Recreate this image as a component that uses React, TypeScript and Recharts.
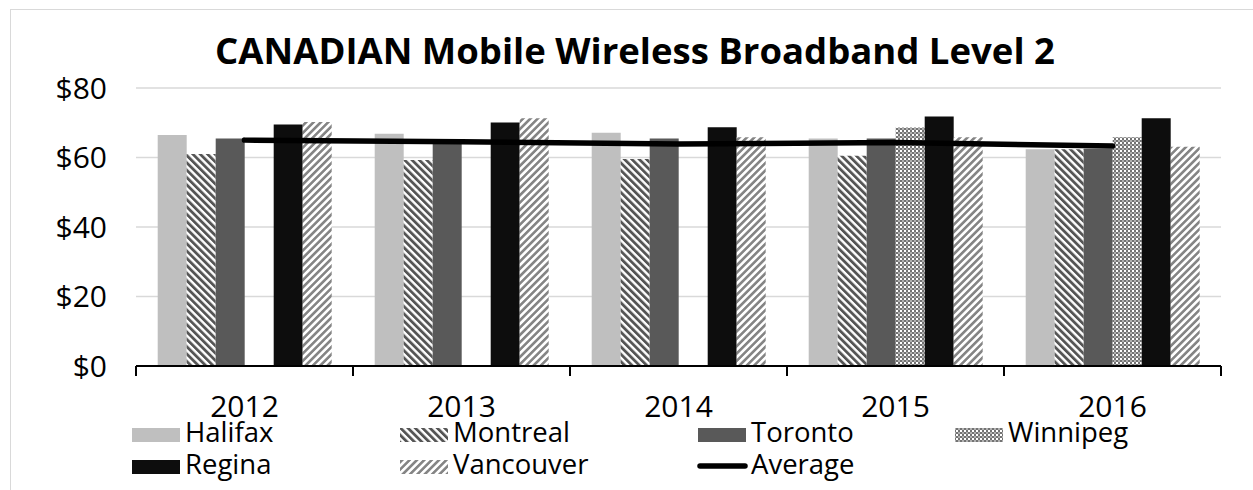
import React from 'react';
import { ComposedChart, Bar, Line, XAxis, YAxis, CartesianGrid } from 'recharts';

const years = ['2012', '2013', '2014', '2015', '2016'];
const halifax = [66.5, 66.8, 67.1, 65.5, 62.4];
const montreal = [61.0, 59.3, 59.6, 60.5, 62.4];
const toronto = [65.5, 65.2, 65.5, 65.5, 62.5];
const winnipeg = [null, null, null, 68.6, 65.8];
const regina = [69.5, 70.1, 68.7, 71.8, 71.3];
const vancouver = [70.2, 71.3, 65.8, 65.8, 63.1];
const average = [65.0, 64.5, 63.9, 64.3, 63.3];
const yTicks = [0, 20, 40, 60, 80];
const title = 'CANADIAN Mobile Wireless Broadband Level 2';

const W = 1253;
const H = 490;
const X_H = 30;
const M = { top: 88, right: 32, bottom: 124 - X_H, left: 0 };
const Y_W = 136;
const FONT = '"Open Sans", "Noto Sans", sans-serif';

const data = years.map((y, i) => ({
  year: y,
  Halifax: halifax[i],
  Montreal: montreal[i],
  Toronto: toronto[i],
  Winnipeg: winnipeg[i],
  Regina: regina[i],
  Vancouver: vancouver[i],
  Average: average[i],
}));

const series = [
  { key: 'Halifax', fill: '#bfbfbf' },
  { key: 'Montreal', fill: 'url(#patMontreal)' },
  { key: 'Toronto', fill: '#595959' },
  { key: 'Winnipeg', fill: 'url(#patWinnipeg)' },
  { key: 'Regina', fill: '#0d0d0d' },
  { key: 'Vancouver', fill: 'url(#patVancouver)' },
];

const legendItems = [
  { name: 'Halifax', fill: '#bfbfbf', x: 132, row: 0 },
  { name: 'Montreal', fill: 'url(#patMontreal)', x: 400, row: 0 },
  { name: 'Toronto', fill: '#595959', x: 698, row: 0 },
  { name: 'Winnipeg', fill: 'url(#patWinnipeg)', x: 955, row: 0 },
  { name: 'Regina', fill: '#0d0d0d', x: 132, row: 1 },
  { name: 'Vancouver', fill: 'url(#patVancouver)', x: 400, row: 1 },
  { name: 'Average', line: true, x: 698, row: 1 },
];

const plotW = W - M.left - Y_W - M.right;
const halfBand = plotW / years.length / 2;

const XTick = (props: any) => {
  const { x, y, payload, index } = props;
  const last = index === years.length - 1;
  return (
    <g>
      <line x1={x - halfBand} x2={x - halfBand} y1={y} y2={y + 10} stroke="#000" strokeWidth={2} />
      {last && <line x1={x + halfBand} x2={x + halfBand} y1={y} y2={y + 10} stroke="#000" strokeWidth={2} />}
      <text x={x} y={y + 51} textAnchor="middle" fontSize={30} fill="#000" fontFamily={FONT}>
        {payload.value}
      </text>
    </g>
  );
};

export default function App() {
  return (
    <div style={{ position: 'absolute', left: 0, top: 0, width: W, height: H, background: '#fff', overflow: 'hidden', fontFamily: FONT }}>
      <svg width={0} height={0} style={{ position: 'absolute' }}>
        <defs>
          <pattern id="patMontreal" width="5.2" height="5.2" patternUnits="userSpaceOnUse" patternTransform="rotate(-45)">
            <rect width="5.2" height="5.2" fill="#fff" />
            <rect width="2.8" height="5.2" fill="#555555" />
          </pattern>
          <pattern id="patVancouver" width="5.2" height="5.2" patternUnits="userSpaceOnUse" patternTransform="rotate(45)">
            <rect width="5.2" height="5.2" fill="#fff" />
            <rect width="2.6" height="5.2" fill="#858585" />
          </pattern>
          <pattern id="patWinnipeg" width="4" height="4" patternUnits="userSpaceOnUse">
            <rect width="4" height="4" fill="#fff" />
            <rect x="0" y="0" width="2" height="2" fill="#737373" />
            <rect x="2" y="2" width="2" height="2" fill="#737373" />
            <rect x="2" y="0" width="2" height="2" fill="#b0b0b0" />
          </pattern>
        </defs>
      </svg>
      <div style={{ position: 'absolute', left: 10, top: 9, width: 1300, height: 600, border: '1.5px solid #d9d9d9' }} />
      <div style={{ position: 'absolute', left: 0, top: 0 }}>
        <ComposedChart width={W} height={H} data={data} margin={M} barCategoryGap="10%" barGap={0}>
          <CartesianGrid vertical={false} stroke="#d9d9d9" strokeWidth={1.5} />
          <XAxis
            dataKey="year"
            height={X_H}
            axisLine={{ stroke: '#000', strokeWidth: 2 }}
            tickLine={false}
            tickSize={0}
            tickMargin={0}
            tick={<XTick />}
            interval={0}
          />
          <YAxis
            width={Y_W}
            domain={[0, 80]}
            ticks={yTicks}
            axisLine={false}
            tickLine={false}
            tickSize={0}
            tickMargin={29}
            tickFormatter={(v: number) => `$${v}`}
            tick={{ fontSize: 30, fill: '#000', fontFamily: FONT }}
          />
          {series.map((s) => (
            <Bar key={s.key} dataKey={s.key} fill={s.fill} isAnimationActive={false} />
          ))}
          <Line
            dataKey="Average"
            stroke="#000"
            strokeWidth={5.5}
            dot={false}
            activeDot={false}
            strokeLinecap="round"
            isAnimationActive={false}
          />
        </ComposedChart>
      </div>
      <svg width={W} height={H} style={{ position: 'absolute', left: 0, top: 0, pointerEvents: 'none' }}>
        <text x={635} y={64} textAnchor="middle" fontSize={36.5} fontWeight="bold" fill="#000" fontFamily={FONT}>
          {title}
        </text>
        {legendItems.map((it) => {
          const base = it.row === 0 ? 442 : 474;
          return (
            <g key={it.name}>
              {it.line ? (
                <line x1={it.x + 2} x2={it.x + 47} y1={base - 8} y2={base - 8} stroke="#000" strokeWidth={5.5} strokeLinecap="round" />
              ) : (
                <rect x={it.x} y={base - 14} width={48} height={14} fill={it.fill} />
              )}
              <text x={it.x + 53} y={base} fontSize={27.5} fill="#000" fontFamily={FONT}>
                {it.name}
              </text>
            </g>
          );
        })}
      </svg>
    </div>
  );
}
